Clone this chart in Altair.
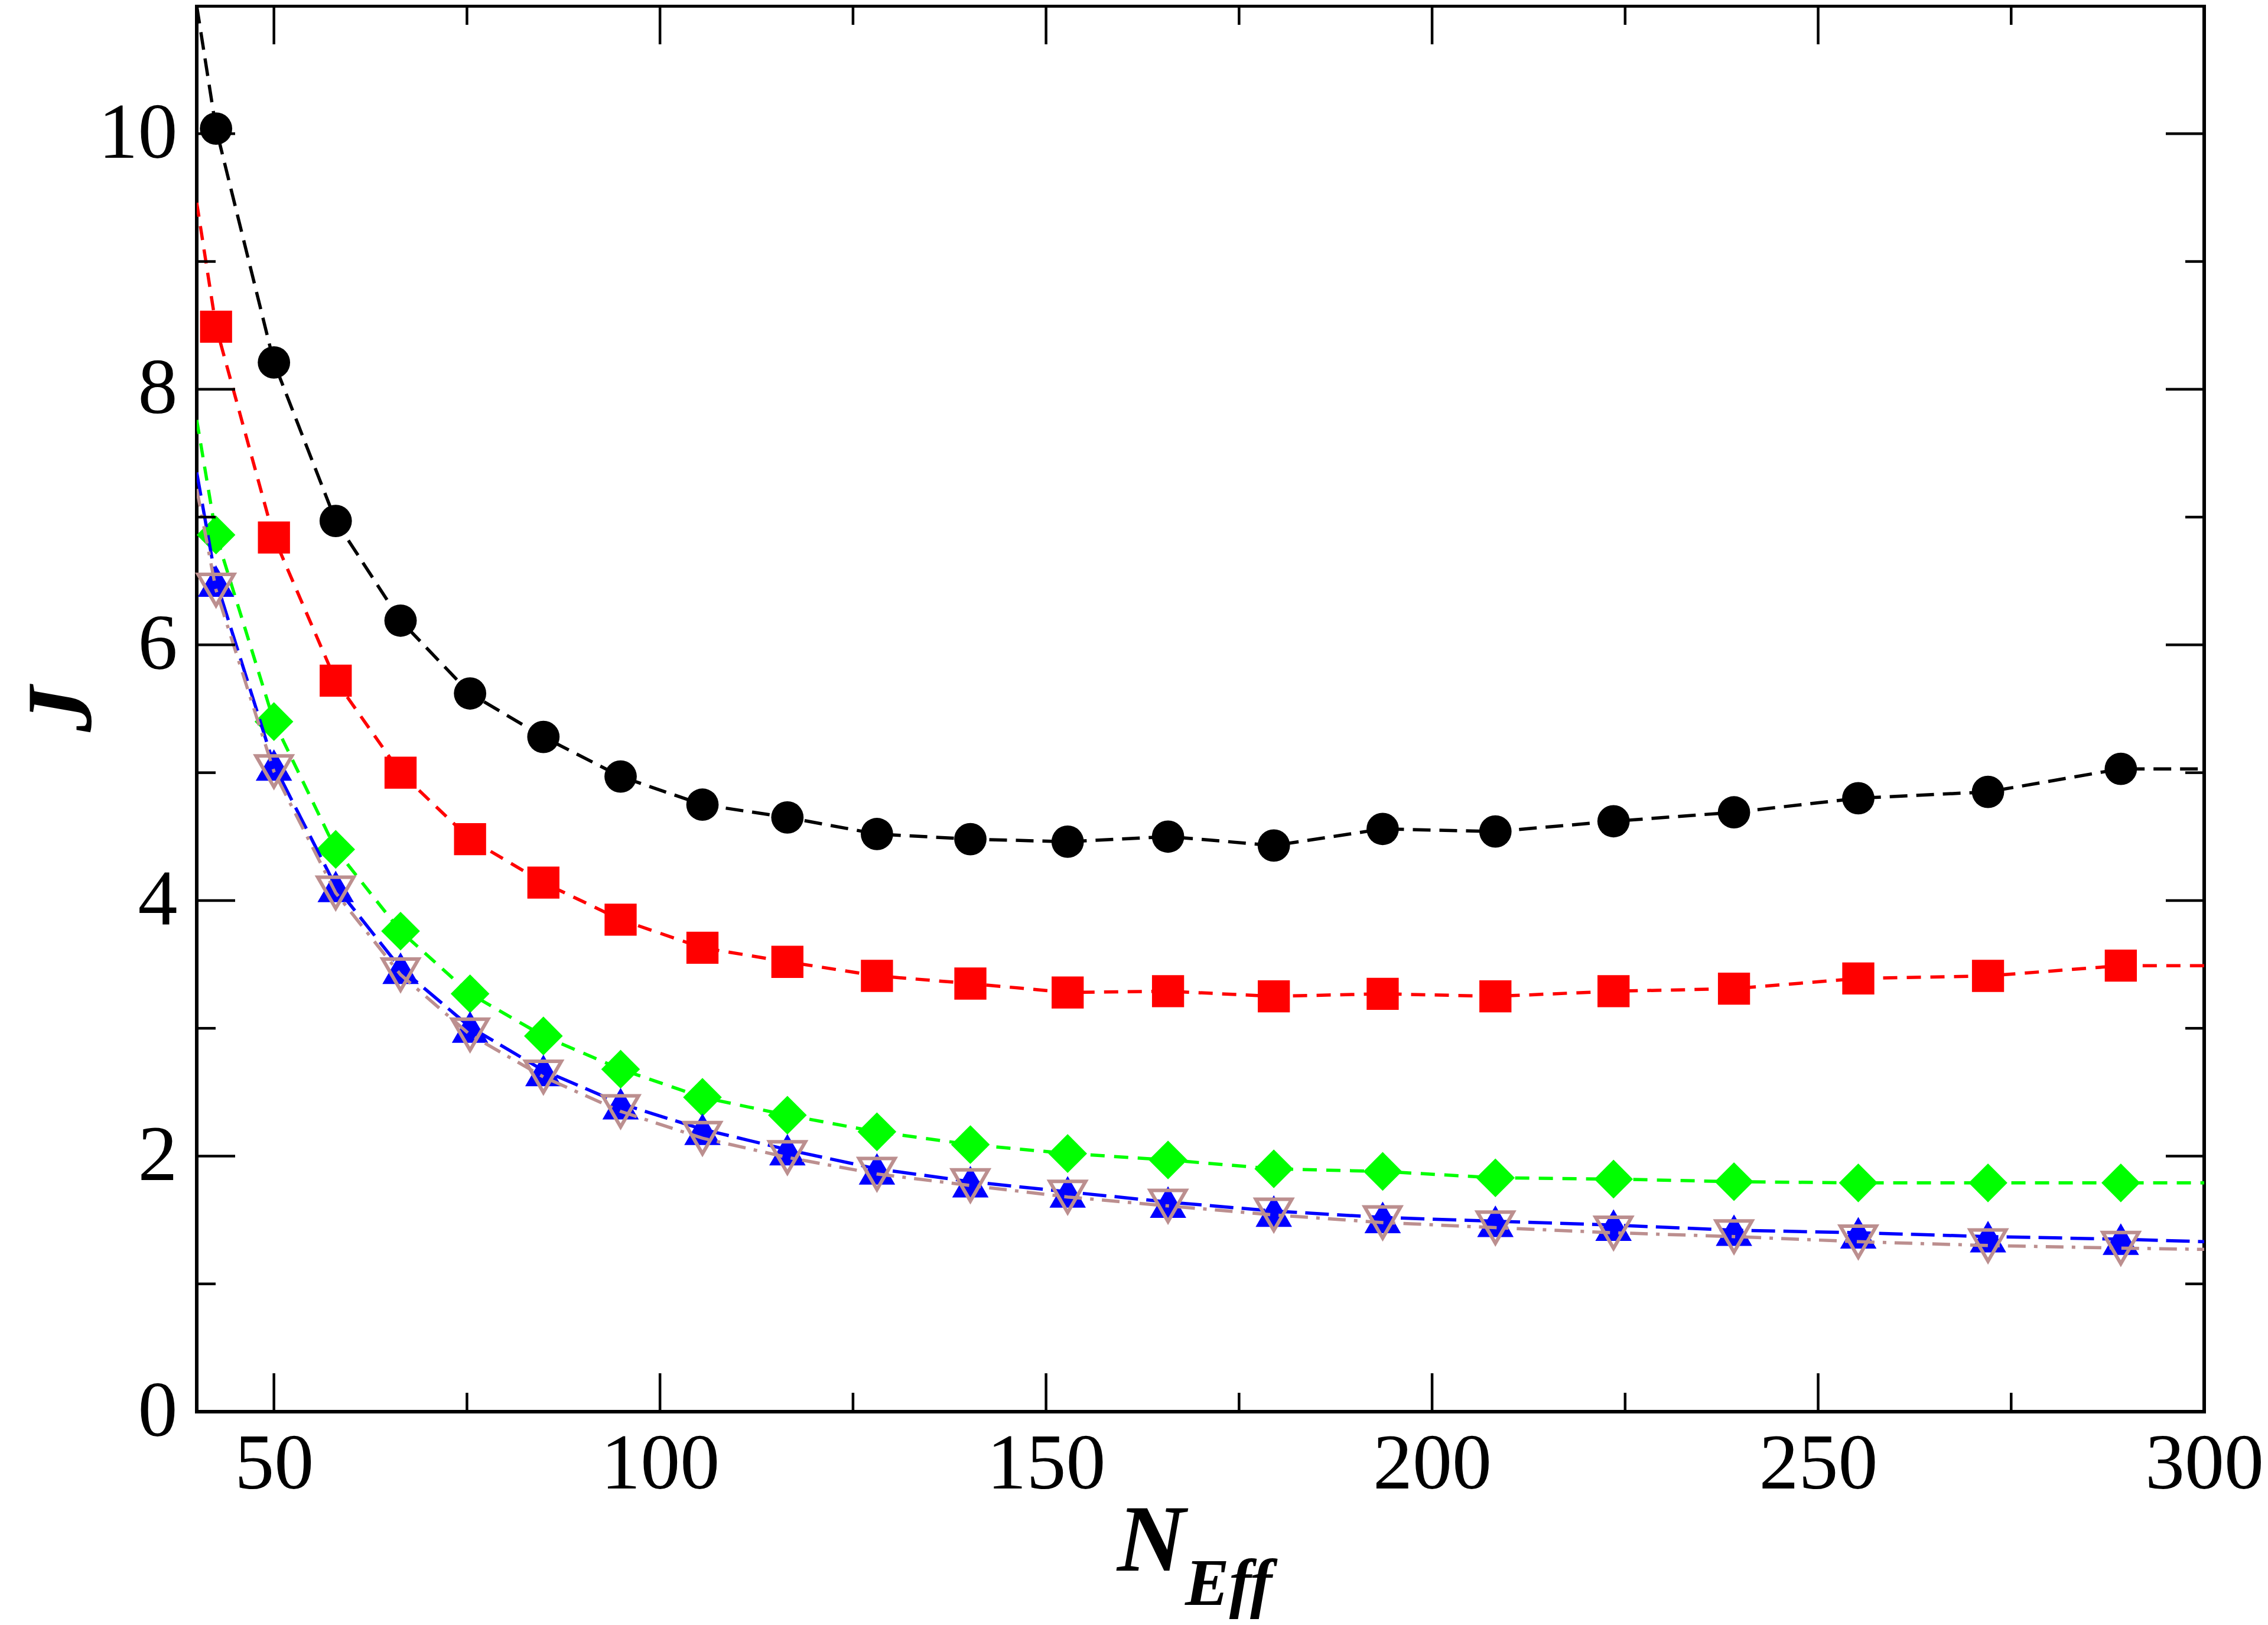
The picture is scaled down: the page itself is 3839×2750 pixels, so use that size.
import altair as alt
import pandas as pd

# ---- data ----
n_eff = [42.5, 50.0, 58.0, 66.4, 75.4, 84.9, 94.9, 105.5, 116.5, 128.1, 140.2,
         152.8, 165.8, 179.5, 193.6, 208.2, 223.5, 239.1, 255.2, 272.0, 289.2]

j_black = [10.04, 8.21, 6.97, 6.19, 5.62, 5.28, 4.97, 4.75, 4.65, 4.52, 4.48,
           4.46, 4.50, 4.43, 4.56, 4.54, 4.62, 4.69, 4.80, 4.85, 5.03]
j_red = [8.49, 6.84, 5.72, 5.00, 4.48, 4.14, 3.85, 3.63, 3.52, 3.41, 3.35,
         3.28, 3.29, 3.25, 3.27, 3.25, 3.29, 3.31, 3.39, 3.41, 3.49]
j_green = [6.86, 5.40, 4.40, 3.76, 3.27, 2.94, 2.68, 2.46, 2.32, 2.19, 2.09,
           2.02, 1.97, 1.90, 1.88, 1.83, 1.82, 1.80, 1.79, 1.79, 1.79]
j_blue = [6.50, 5.06, 4.11, 3.47, 3.01, 2.67, 2.41, 2.21, 2.05, 1.90, 1.80,
          1.72, 1.64, 1.57, 1.52, 1.49, 1.46, 1.42, 1.40, 1.37, 1.35]
j_brown = [6.43, 5.01, 4.06, 3.42, 2.95, 2.62, 2.35, 2.14, 1.99, 1.86, 1.77,
           1.68, 1.61, 1.54, 1.48, 1.44, 1.40, 1.37, 1.33, 1.30, 1.28]

# where the connecting lines meet the frame (x = 40 and x = 300)
line_x_ends = [40.0, 300.0]
black_ends = [11.0, 5.03]
red_ends = [9.46, 3.49]
green_ends = [7.76, 1.79]
blue_ends = [7.35, 1.33]
brown_ends = [7.22, 1.27]

x_major = [50, 100, 150, 200, 250, 300]
x_minor = [75, 125, 175, 225, 275]
y_major = [0, 2, 4, 6, 8, 10]
y_minor = [1, 3, 5, 7, 9]

# ---- layout ----
W, H = 3398, 2379
MAJ, MIN = 65, 32
FONT = "Liberation Serif"
LBL = 134

xs = alt.Scale(domain=[40, 300], nice=False, zero=False)
ys = alt.Scale(domain=[0, 11], nice=False, zero=False)

x_axis = alt.Axis(values=x_major, format="d", labelFont=FONT, labelFontSize=LBL,
                  labelColor="black", labelPadding=23, labelLimit=0, ticks=False,
                  tickSize=0, domain=False, grid=False, title=None, labelFlush=False,
                  labelOverlap=False)
y_axis = alt.Axis(values=y_major, format="d", labelFont=FONT, labelFontSize=LBL,
                  labelColor="black", labelPadding=33, labelLimit=0, ticks=False,
                  tickSize=0, domain=False, grid=False, title=None, labelFlush=False,
                  labelOverlap=False)

series = [
    ("black", j_black, black_ends, "#000000", "circle", 3000, [30, 15], True),
    ("red", j_red, red_ends, "#ff0000", "square", 2950, [24, 16], True),
    ("green", j_green, green_ends, "#00ff00", "diamond", 4300, [24, 16], True),
    ("blue", j_blue, blue_ends, "#0000ff", "triangle-up", 3800, [40, 14], True),
    ("brown", j_brown, brown_ends, "#bc8f8f", "triangle-down", 3700, [30, 14, 6, 14], False),
]

layers = []
for name, vals, ends, color, shape, size, dash, filled in series:
    lx = [line_x_ends[0]] + n_eff + [line_x_ends[1]]
    ly = [ends[0]] + vals + [ends[1]]
    ldf = pd.DataFrame({"x": lx, "y": ly, "o": list(range(len(lx)))})
    pdf = pd.DataFrame({"x": n_eff, "y": vals})
    line = alt.Chart(ldf).mark_line(color=color, strokeWidth=5.5, strokeDash=dash,
                                    clip=True).encode(
        x=alt.X("x:Q", scale=xs, axis=x_axis),
        y=alt.Y("y:Q", scale=ys, axis=y_axis),
        order="o:Q",
    )
    if filled:
        pts = alt.Chart(pdf).mark_point(shape=shape, size=size, filled=True, fill=color,
                                        opacity=1, fillOpacity=1)
    else:
        pts = alt.Chart(pdf).mark_point(shape=shape, size=size, filled=False, stroke=color,
                                        strokeWidth=6, fillOpacity=0, opacity=1)
    pts = pts.encode(x=alt.X("x:Q", scale=xs), y=alt.Y("y:Q", scale=ys))
    layers += [line, pts]

# ---- inward ticks on all four sides ----
def xticks(vals, length):
    d = pd.DataFrame({"t": vals})
    bot = alt.Chart(d).mark_rule(color="black", strokeWidth=4.5).encode(
        x=alt.X("t:Q", scale=xs), y=alt.value(H), y2=alt.value(H - length))
    top = alt.Chart(d).mark_rule(color="black", strokeWidth=4.5).encode(
        x=alt.X("t:Q", scale=xs), y=alt.value(0), y2=alt.value(length))
    return [bot, top]

def yticks(vals, length):
    d = pd.DataFrame({"t": vals})
    left = alt.Chart(d).mark_rule(color="black", strokeWidth=4.5).encode(
        y=alt.Y("t:Q", scale=ys), x=alt.value(0), x2=alt.value(length))
    right = alt.Chart(d).mark_rule(color="black", strokeWidth=4.5).encode(
        y=alt.Y("t:Q", scale=ys), x=alt.value(W), x2=alt.value(W - length))
    return [left, right]

ticks = xticks(x_major, MAJ) + xticks(x_minor, MIN) + yticks(y_major, MAJ) + yticks(y_minor, MIN)

# ---- axis titles ----
t_n = alt.Chart(pd.DataFrame({"t": ["N"]})).mark_text(
    font=FONT, fontSize=160, fontWeight="bold", fontStyle="italic", align="left",
    baseline="alphabetic", color="black").encode(
    text="t:N", x=alt.value(1558), y=alt.value(2648))
t_eff = alt.Chart(pd.DataFrame({"t": ["Eff"]})).mark_text(
    font=FONT, fontSize=112, fontWeight="bold", fontStyle="italic", align="left",
    baseline="alphabetic", color="black").encode(
    text="t:N", x=alt.value(1673), y=alt.value(2706))
t_j = alt.Chart(pd.DataFrame({"t": ["J"]})).mark_text(
    font=FONT, fontSize=156, fontWeight="bold", fontStyle="italic", align="center",
    baseline="alphabetic", angle=270, color="black").encode(
    text="t:N", x=alt.value(-180), y=alt.value(1190))

chart = alt.layer(*layers, *ticks, t_n, t_eff, t_j).properties(
    width=W, height=H,
    padding={"left": 325, "top": 2, "right": 100, "bottom": 352},
    autosize=alt.AutoSizeParams(type="none"),
    background="white",
).configure_view(stroke="black", strokeWidth=6).configure_axis(
    labelFont=FONT, labelFontSize=LBL, labelLimit=0)

chart.save("out.html", embed_options={"renderer": "svg", "actions": False})
